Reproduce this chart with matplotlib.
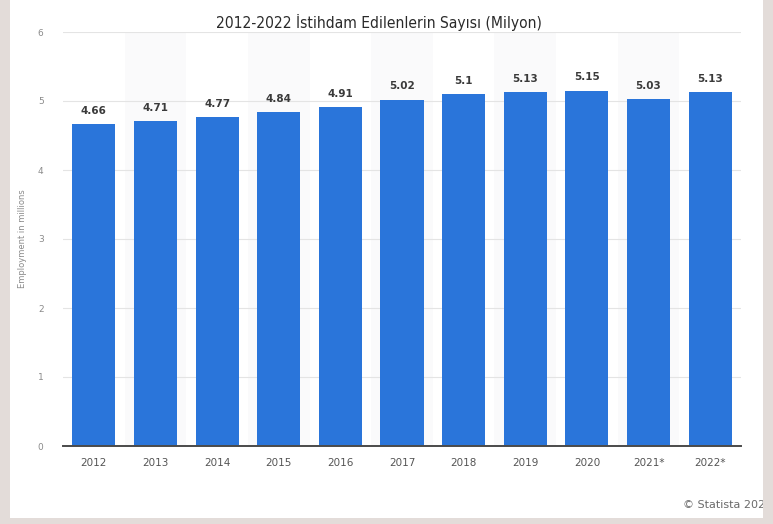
import matplotlib.pyplot as plt
from matplotlib.patches import Rectangle

# yıllar ve istihdam (milyon)
years = ['2012', '2013', '2014', '2015', '2016', '2017', '2018', '2019', '2020', '2021*', '2022*']
values = [4.66, 4.71, 4.77, 4.84, 4.91, 5.02, 5.1, 5.13, 5.15, 5.03, 5.13]
value_labels = ['4.66', '4.71', '4.77', '4.84', '4.91', '5.02', '5.1', '5.13', '5.15', '5.03', '5.13']
yticks = [0, 1, 2, 3, 4, 5, 6]

W, H = 773, 524
fig = plt.figure(figsize=(W / 100, H / 100), dpi=100)
ax = fig.add_axes([63 / W, 1 - 446 / H, (741 - 63) / W, (446 - 32) / H])

x = range(len(years))

# bandes alternées en fond
for i in x:
    if i % 2 == 1:
        ax.axvspan(i - 0.5, i + 0.5, color='#fafafb', zorder=0, lw=0)

ax.bar(x, values, width=0.7, color='#2a75da', zorder=3)

for i, (v, lab) in enumerate(zip(values, value_labels)):
    ax.text(i, v + 0.12, lab, ha='center', va='bottom', fontsize=7.5,
            fontweight='bold', color='#3a3a3a', zorder=4)

ax.set_xlim(-0.5, 10.5)
ax.set_ylim(0, 6)
ax.set_yticks(yticks)
ax.set_xticks(list(x))
ax.set_xticklabels(years)
ax.yaxis.grid(True, color='#e4e4e4', lw=0.8, zorder=1)
ax.set_axisbelow(True)

for s in ['top', 'right', 'left']:
    ax.spines[s].set_visible(False)
ax.spines['bottom'].set_color('#4a4a4a')
ax.spines['bottom'].set_linewidth(1.4)
ax.spines['bottom'].set_zorder(5)

ax.tick_params(axis='y', length=0, pad=14, labelsize=6.5, labelcolor='#8a8a8a')
ax.tick_params(axis='x', length=0, pad=9, labelsize=7.5, labelcolor='#555555')
ax.set_ylabel('Employment in millions', fontsize=6, color='#8a8a8a', labelpad=10)
ax.yaxis.set_label_coords(-36 / 678, 0.5)

fig.text(379 / W, 1 - 22 / H, '2012-2022 İstihdam Edilenlerin Sayısı (Milyon)',
         ha='center', va='center', fontsize=11.2, color='#2a2a2a',
         family='DejaVu Sans', stretch='condensed',
         bbox=dict(facecolor='white', edgecolor='none', pad=1), zorder=6)

fig.text(683 / W, 1 - 505 / H, '© Statista 2023', ha='left', va='center',
         fontsize=8, color='#6a6a6a', zorder=3)

# cadre gris autour
border = '#e3dcd9'
for rect in [(0, 0, 10 / W, 1), (763 / W, 0, 10 / W, 1), (0, 0, 1, 6 / H)]:
    fig.patches.append(Rectangle(rect[:2], rect[2], rect[3], transform=fig.transFigure,
                                 facecolor=border, edgecolor='none', zorder=10))

fig.savefig('out.png', dpi=100)
